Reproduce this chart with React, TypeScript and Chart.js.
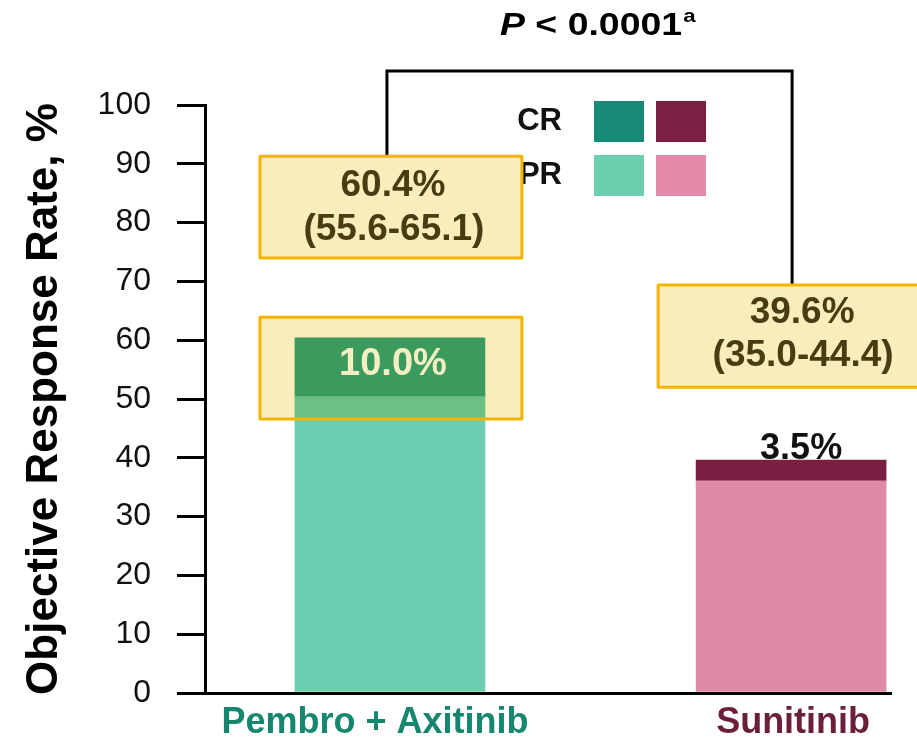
import React, { useEffect, useRef } from "react";
import { Chart, registerables } from "chart.js";

Chart.register(...registerables);

// ---- data ----
const categories = ["Pembro + Axitinib", "Sunitinib"];
const categoryPositions = [1, 2];
const prValues = [50.4, 36.1];
const crValues = [10.0, 3.5];
const orrLabels = ["60.4%", "39.6%"];
const ciLabels = ["(55.6-65.1)", "(35.0-44.4)"];
const crLabels = ["10.0%", "3.5%"];
const yTickStep = 10;
const yMax = 100;
const yTitle = "Objective Response Rate, %";
const pValueItalic = "P";
const pValueRest = " < 0.0001";
const pValueSup = "a";
const legendRows = ["CR", "PR"];

// ---- styles ----
const FONT = '"Liberation Sans", Arial, Helvetica, sans-serif';
const prColors = ["#6dcfb2", "#df8aa9"];
const crColors = ["#3ca67e", "#7a1e42"];
const legendCR = ["#178a7a", "#7b1f45"];
const legendPR = ["#6ccfae", "#e58aaa"];
const labelColors = ["#15876f", "#6b1f3c"];
const boxFill = "rgb(251,237,187)";
const boxStroke = "#f6b400";
const boxText = "#4a3c12";

function drawText(
  ctx: CanvasRenderingContext2D,
  s: string,
  x: number,
  y: number,
  font: string,
  color: string,
  align: CanvasTextAlign = "center",
  sx = 1
) {
  ctx.save();
  ctx.font = font;
  ctx.fillStyle = color;
  ctx.textBaseline = "middle";
  ctx.textAlign = align;
  ctx.translate(x, y);
  ctx.scale(sx, 1);
  ctx.fillText(s, 0, 0);
  ctx.restore();
}

function drawBox(ctx: CanvasRenderingContext2D, x1: number, y1: number, x2: number, y2: number) {
  ctx.save();
  ctx.globalCompositeOperation = "multiply";
  ctx.fillStyle = boxFill;
  ctx.fillRect(x1, y1, x2 - x1, y2 - y1);
  ctx.restore();
  ctx.save();
  ctx.strokeStyle = boxStroke;
  ctx.lineWidth = 3;
  ctx.lineJoin = "round";
  ctx.strokeRect(x1, y1, x2 - x1, y2 - y1);
  ctx.restore();
}

const overlayPlugin = {
  id: "overlay",
  afterDatasetsDraw(chart: any) {
    const ctx: CanvasRenderingContext2D = chart.ctx;
    const xs = chart.scales.x;
    const ys = chart.scales.y;
    const c0 = xs.getPixelForValue(categoryPositions[0]);
    const c1 = xs.getPixelForValue(categoryPositions[1]);
    const Y = (v: number) => ys.getPixelForValue(v);

    // title with p-value
    ctx.save();
    ctx.textBaseline = "alphabetic";
    ctx.fillStyle = "#000";
    ctx.translate(500, 35);
    ctx.scale(1.17, 1);
    let tx = 0;
    ctx.font = `italic bold 32px ${FONT}`;
    ctx.textAlign = "left";
    ctx.fillText(pValueItalic, tx, 0);
    tx += ctx.measureText(pValueItalic).width;
    ctx.font = `bold 32px ${FONT}`;
    ctx.fillText(pValueRest, tx, 0);
    tx += ctx.measureText(pValueRest).width + 1;
    ctx.font = `bold 19px ${FONT}`;
    ctx.fillText(pValueSup, tx, -13);
    ctx.restore();

    // boxes geometry (value units)
    const box1 = [Y(91.3), Y(74.0)];
    const box2 = [Y(63.9), Y(46.6)];
    const box3 = [Y(69.4), Y(52.0)];

    // bracket
    ctx.save();
    ctx.strokeStyle = "#000";
    ctx.lineWidth = 3;
    ctx.beginPath();
    ctx.moveTo(c0 - 3, box1[0]);
    ctx.lineTo(c0 - 3, 71);
    ctx.lineTo(c1 + 1, 71);
    ctx.lineTo(c1 + 1, box3[0]);
    ctx.stroke();
    ctx.restore();

    // legend
    const lx = [594, 656];
    const lw = 50;
    const lrows = [
      [101, 142],
      [155, 196],
    ];
    [legendCR, legendPR].forEach((cols, r) => {
      cols.forEach((col, i) => {
        ctx.fillStyle = col;
        ctx.fillRect(lx[i], lrows[r][0], lw, lrows[r][1] - lrows[r][0]);
      });
      drawText(ctx, legendRows[r], 562, (lrows[r][0] + lrows[r][1]) / 2, `bold 31px ${FONT}`, "#111", "right");
    });

    // "3.5%" label above sunitinib bar
    drawText(ctx, crLabels[1], c1 + 10, Y(prValues[1] + crValues[1]) - 11, `bold 36px ${FONT}`, "#111", "center");

    // boxes
    const bw = 131;
    drawBox(ctx, c0 - bw + 1, box1[0], c0 + bw + 1, box1[1]);
    drawBox(ctx, c0 - bw + 1, box2[0], c0 + bw + 1, box2[1]);
    drawBox(ctx, c1 - bw - 2, box3[0], c1 + bw + 2, box3[1]);

    const bf = `bold 37px ${FONT}`;
    drawText(ctx, orrLabels[0], c0 + 3, box1[0] + 30, bf, boxText, "center");
    drawText(ctx, ciLabels[0], c0 + 4, box1[0] + 74, bf, boxText, "center");
    drawText(ctx, crLabels[0], c0 + 3, box2[0] + 47, `bold 38px ${FONT}`, "#f4efc2", "center");
    drawText(ctx, orrLabels[1], c1 + 11, box3[0] + 28, bf, boxText, "center");
    drawText(ctx, ciLabels[1], c1 + 12, box3[0] + 71, bf, boxText, "center");

    // category labels
    drawText(ctx, categories[0], c0 - 15, 723, `bold 36px ${FONT}`, labelColors[0], "center");
    drawText(ctx, categories[1], c1 + 2, 723, `bold 36px ${FONT}`, labelColors[1], "center");
  },
};

export default function App() {
  const ref = useRef<HTMLCanvasElement | null>(null);
  useEffect(() => {
    if (!ref.current) return;
    const chart = new Chart(ref.current, {
      type: "bar",
      data: {
        datasets: [
          {
            label: "PR",
            data: categoryPositions.map((x, i) => ({ x, y: prValues[i] })),
            backgroundColor: prColors,
            barThickness: 190,
            stack: "s",
          },
          {
            label: "CR",
            data: categoryPositions.map((x, i) => ({ x, y: crValues[i] })),
            backgroundColor: crColors,
            barThickness: 190,
            stack: "s",
          },
        ],
      },
      options: {
        animation: false,
        responsive: false,
        devicePixelRatio: 1,
        layout: { padding: { top: 105, right: 26, left: 0, bottom: 0 } },
        plugins: { legend: { display: false }, tooltip: { enabled: false } },
        scales: {
          x: {
            type: "linear",
            stacked: true,
            offset: false,
            min: 0.539,
            max: 2.249,
            grid: { display: false, drawTicks: false, offset: false },
            border: { display: true, color: "#000", width: 3 },
            ticks: { display: false },
            afterFit: (s: any) => {
              s.height = 49;
            },
          },
          y: {
            stacked: true,
            min: 0,
            max: yMax,
            ticks: {
              stepSize: yTickStep,
              font: { size: 32, family: FONT },
              color: "#111",
              padding: 26,
            },
            grid: { drawOnChartArea: false, tickLength: 28, color: "#000", lineWidth: 3 },
            border: { display: true, color: "#000", width: 3 },
            title: {
              display: true,
              text: yTitle,
              font: { size: 44, weight: "bold", family: FONT },
              color: "#000",
              padding: { top: 18, bottom: 0 },
            },
            afterFit: (s: any) => {
              s.width = 205;
            },
          },
        },
      } as any,
      plugins: [overlayPlugin],
    });
    return () => chart.destroy();
  }, []);
  return (
    <div style={{ position: "absolute", left: 0, top: 0, width: 917, height: 742, background: "#fff" }}>
      <canvas ref={ref} width={917} height={742} style={{ display: "block" }} />
    </div>
  );
}
